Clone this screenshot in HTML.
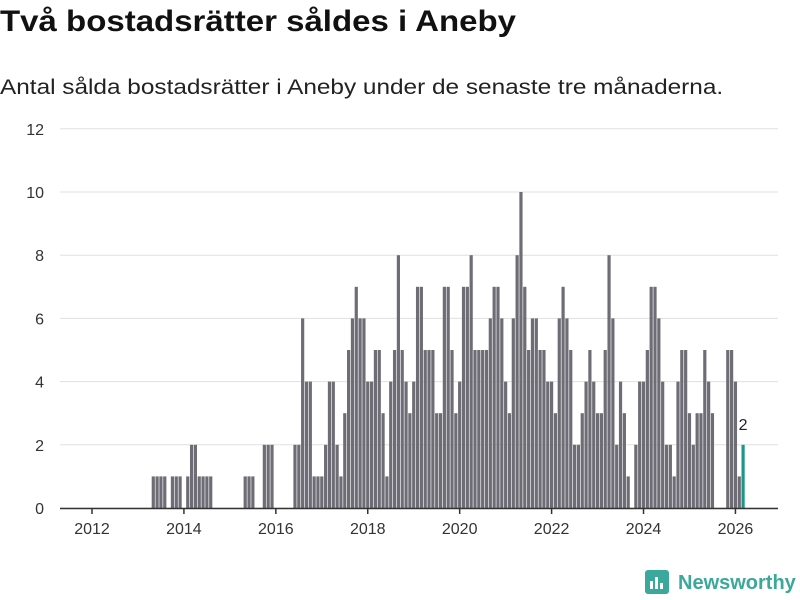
<!DOCTYPE html>
<html><head><meta charset="utf-8">
<style>
body{margin:0;background:#fff;width:800px;height:600px;overflow:hidden;font-family:"Liberation Sans",sans-serif;}
#title{position:absolute;left:0;top:5px;font-size:30px;font-weight:bold;color:#111;margin:0;transform-origin:0 0;transform:scaleX(1.1);white-space:nowrap}
#sub{position:absolute;left:0;top:76px;font-size:21px;color:#222;margin:0;transform-origin:0 0;transform:scaleX(1.16);white-space:nowrap}
svg{position:absolute;left:0;top:0}
</style></head><body>
<h1 id="title">Två bostadsrätter såldes i Aneby</h1>
<p id="sub">Antal sålda bostadsrätter i Aneby under de senaste tre månaderna.</p>
<svg id="chart" width="800" height="600"></svg>
<script>
const startYear = 2012;
const values = [0,0,0,0,0,0,0,0,0,0,0,0,
0,0,0,0,1,1,1,1,0,1,1,1,
0,1,2,2,1,1,1,1,0,0,0,0,
0,0,0,0,1,1,1,0,0,2,2,2,
0,0,0,0,0,2,2,6,4,4,1,1,
1,2,4,4,2,1,3,5,6,7,6,6,
4,4,5,5,3,1,4,5,8,5,4,3,
4,7,7,5,5,5,3,3,7,7,5,3,
4,7,7,8,5,5,5,5,6,7,7,6,
4,3,6,8,10,7,5,6,6,5,5,4,
4,3,6,7,6,5,2,2,3,4,5,4,
3,3,5,8,6,2,4,3,1,0,2,4,
4,5,7,7,6,4,2,2,1,4,5,5,
3,2,3,3,5,4,3,0,0,0,5,5,
4,1,2];
const yTicks = [0,2,4,6,8,10,12];
const xTickYears = [2012,2014,2016,2018,2020,2022,2024,2026];

const svg = document.getElementById('chart');
const NS = 'http://www.w3.org/2000/svg';
const x = i => 92 + i * 3.83;
const y = v => 508 - v * 31.6;
function mk(tag, attrs, parent){const e=document.createElementNS(NS,tag);for(const k in attrs)e.setAttribute(k,attrs[k]);(parent||svg).appendChild(e);return e;}

yTicks.forEach(t=>{
  const g = mk('line',{x1:60,x2:778,y1:y(t),y2:y(t),stroke:'#e0e0e0','stroke-width':1});
  
  
  const l = mk('text',{x:44,y:y(t)+6,'text-anchor':'end','font-size':16,fill:'#333','font-family':'Liberation Sans, sans-serif'});
  l.textContent = t;
  
  
});

values.forEach((v,i)=>{
  if(v<=0) return;
  const last = i === values.length-1;
  const r = mk('rect',{x:x(i)-1.6,y:y(v),width:3.2,height:y(0)-y(v),fill:last?'#1a968a':'#6e6d75'});
  
  
});
const li = values.length-1;
const lbl = mk('text',{x:x(li),y:y(values[li])-15,'text-anchor':'middle','font-size':16,fill:'#222','font-family':'Liberation Sans, sans-serif'});
lbl.textContent = values[li];



const ax = mk('line',{x1:60,x2:778,y1:508.5,y2:508.5,stroke:'#333','stroke-width':1.5});


xTickYears.forEach(yr=>{
  const i = (yr-startYear)*12;
  const t = mk('line',{x1:x(i),x2:x(i),y1:508,y2:514,stroke:'#333','stroke-width':1.5});
  
  
  const l = mk('text',{x:x(i),y:534,'text-anchor':'middle','font-size':16,fill:'#333','font-family':'Liberation Sans, sans-serif'});
  l.textContent = yr;
  
  
});
</script>
<svg width="800" height="600" style="position:absolute;left:0;top:0;pointer-events:none">
<g>
<rect x="645" y="570" width="24" height="24" rx="3" fill="#3aa89a"/>
<rect x="650" y="581" width="3" height="8" fill="#fff"/><rect x="655" y="577" width="3" height="12" fill="#fff"/><rect x="660" y="583" width="3" height="6" fill="#fff"/>
<text x="678" y="589" font-size="20" font-weight="bold" fill="#3aa89a" font-family="Liberation Sans, sans-serif">Newsworthy</text>
</g>
</svg>
</body></html>
